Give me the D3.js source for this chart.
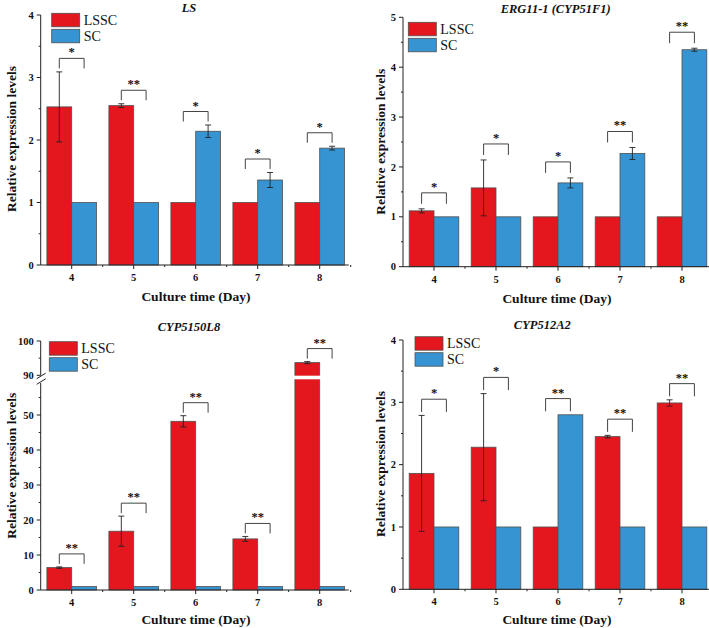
<!DOCTYPE html>
<html><head><meta charset="utf-8">
<script src="https://cdn.jsdelivr.net/npm/d3@7"></script>
<style>body{margin:0;background:#fff}svg{display:block}text{font-family:"Liberation Serif","Times New Roman",serif;fill:#111}</style>
</head><body>
<svg id="c" width="709" height="628"></svg>
<script>
const days = ["4", "5", "6", "7", "8"];
const seriesNames = ["LSSC", "SC"];
const xTitle = "Culture time (Day)";
const yTitle = "Relative expression levels";

// Panel 1: LS
const lsLSSC = [2.53, 2.55, 1, 1, 1];
const lsLSSCErr = [0.56, 0.03, 0, 0, 0];
const lsSC = [1, 1, 2.14, 1.36, 1.87];
const lsSCErr = [0, 0, 0.10, 0.12, 0.03];
const lsSig = ["*", "**", "*", "*", "*"];
const lsTicks = [0, 1, 2, 3, 4];

// Panel 2: ERG11-1 (CYP51F1)
const ergLSSC = [1.12, 1.58, 1, 1, 1];
const ergLSSCErr = [0.04, 0.56, 0, 0, 0];
const ergSC = [1, 1, 1.68, 2.27, 4.35];
const ergSCErr = [0, 0, 0.10, 0.12, 0.03];
const ergSig = ["*", "*", "*", "**", "**"];
const ergTicks = [0, 1, 2, 3, 4, 5];

// Panel 3: CYP5150L8 (broken axis)
const c50LSSC = [6.4, 16.8, 48.2, 14.6, 93.7];
const c50LSSCErr = [0.2, 4.3, 1.6, 0.7, 0.3];
const c50SC = [1, 1, 1, 1, 1];
const c50SCErr = [0, 0, 0, 0, 0];
const c50Sig = ["**", "**", "**", "**", "**"];
const c50TicksLow = [0, 10, 20, 30, 40, 50];
const c50TicksHigh = [90, 100];

// Panel 4: CYP512A2
const c12LSSC = [1.86, 2.28, 1, 2.45, 2.99];
const c12LSSCErr = [0.93, 0.86, 0, 0.02, 0.05];
const c12SC = [1, 1, 2.8, 1, 1];
const c12SCErr = [0, 0, 0, 0, 0];
const c12Sig = ["*", "*", "**", "**", "**"];
const c12Ticks = [0, 1, 2, 3, 4];

const RED = "#e3171d", BLUE = "#3594d1", EDGE = "#505050";
const svg = d3.select("#c");

function drawPanel(p) {
  const g = svg.append("g");
  const x = d3.scaleBand().domain(days).range([p.x0, p.x0 + 310]).padding(0);
  const step = x.bandwidth();
  const bw = step * 0.4;
  const y = p.y;
  const yBase = y(0);

  const series = [
    {vals: p.lssc, errs: p.lsscErr, color: RED, off: -1},
    {vals: p.sc, errs: p.scErr, color: BLUE, off: 0}
  ];
  series.forEach(s => {
    g.selectAll(null).data(days).enter().append("rect")
      .attr("x", d => x(d) + step / 2 + s.off * bw)
      .attr("width", bw)
      .attr("y", (d, i) => y(s.vals[i]))
      .attr("height", (d, i) => yBase - y(s.vals[i]))
      .attr("fill", s.color).attr("stroke", EDGE).attr("stroke-width", 0.8);
  });
  if (p.gap) {
    g.append("rect").attr("x", p.x0 + 1).attr("width", 320)
      .attr("y", p.gap[0]).attr("height", p.gap[1] - p.gap[0]).attr("fill", "#fff");
  }
  series.forEach(s => {
    days.forEach((d, i) => {
      const e = s.errs[i];
      if (!e) return;
      const cx = x(d) + step / 2 + s.off * bw + bw / 2;
      const y1 = y(s.vals[i] + e), y2 = y(s.vals[i] - e);
      g.append("line").attr("x1", cx).attr("x2", cx).attr("y1", y1).attr("y2", y2).attr("stroke", "#222").attr("stroke-width", 0.9);
      [y1, y2].forEach(yy => g.append("line").attr("x1", cx - 3).attr("x2", cx + 3).attr("y1", yy).attr("y2", yy).attr("stroke", "#222").attr("stroke-width", 0.9));
    });
  });
  days.forEach((d, i) => {
    const top = Math.min(y(p.lssc[i] + (p.lsscErr[i] || 0)), y(p.sc[i] + (p.scErr[i] || 0)));
    const legB = top - p.gapPx;
    const legT = legB - p.leg;
    const lx = x(d) + step / 2 - bw / 2, rx = x(d) + step / 2 + bw / 2;
    g.append("path").attr("d", `M${lx},${legB}V${legT}H${rx}V${legB}`)
      .attr("fill", "none").attr("stroke", "#444").attr("stroke-width", 1);
    g.append("text").attr("x", x(d) + step / 2).attr("y", legT - 2)
      .attr("text-anchor", "middle").attr("font-size", 12.5).attr("font-weight", "bold").text(p.sig[i]);
  });

  const ax = g.append("g").attr("stroke", "#222").attr("stroke-width", 1);
  ax.append("line").attr("x1", p.x0).attr("x2", p.x0 + 308).attr("y1", yBase).attr("y2", yBase);
  days.forEach(d => {
    const cx = x(d) + step / 2;
    ax.append("line").attr("x1", cx).attr("x2", cx).attr("y1", yBase).attr("y2", yBase + 4);
    ax.append("line").attr("x1", x(d) + step).attr("x2", x(d) + step).attr("y1", yBase).attr("y2", yBase + 2);
  });
  g.selectAll(null).data(days).enter().append("text")
    .attr("x", d => x(d) + step / 2).attr("y", yBase + 16)
    .attr("text-anchor", "middle").attr("font-size", 10.5).attr("font-weight", "bold").text(d => d);

  p.segments.forEach(seg => {
    ax.append("line").attr("x1", p.x0).attr("x2", p.x0).attr("y1", seg.r[0]).attr("y2", seg.r[1]);
    seg.ticks.forEach(t => {
      const yy = y(t);
      ax.append("line").attr("x1", p.x0 - 4).attr("x2", p.x0).attr("y1", yy).attr("y2", yy);
      g.append("text").attr("x", p.x0 - 7).attr("y", yy + 3.6).attr("text-anchor", "end")
        .attr("font-size", 10.5).attr("font-weight", "bold").text(t);
    });
    seg.minor.forEach(t => {
      const yy = y(t);
      ax.append("line").attr("x1", p.x0 - 2).attr("x2", p.x0).attr("y1", yy).attr("y2", yy);
    });
  });
  if (p.gap) {
    [p.gap[0] + 0.5, p.gap[1] + 2.5].forEach(yy => {
      ax.append("line").attr("x1", p.x0 - 4).attr("x2", p.x0 + 5).attr("y1", yy + 2.5).attr("y2", yy - 3);
    });
  }

  g.append("text").attr("x", p.tx).attr("y", p.ty).attr("text-anchor", "middle")
    .attr("font-size", 12.5).attr("font-weight", "bold").attr("font-style", "italic").text(p.title);
  g.append("text").attr("x", p.xlx).attr("y", p.xly).attr("text-anchor", "middle")
    .attr("font-size", 13.5).attr("font-weight", "bold").text(xTitle);
  g.append("text").attr("transform", `translate(${p.ylx},${p.yly}) rotate(-90)`).attr("text-anchor", "middle")
    .attr("font-size", 13.5).attr("font-weight", "bold").text(yTitle);

  [RED, BLUE].forEach((c, i) => {
    g.append("rect").attr("x", p.lg[0]).attr("y", p.lg[1] + i * 16).attr("width", 28).attr("height", 13.5)
      .attr("fill", c).attr("stroke", EDGE).attr("stroke-width", 0.8);
    g.append("text").attr("x", p.lg[0] + 32).attr("y", p.lg[1] + i * 16 + 11.5)
      .attr("font-size", 14).text(seriesNames[i]);
  });
}

const halfMinor = n => d3.range(0.5, n, 1);

drawPanel({
  x0: 40.7, y: d3.scaleLinear().domain([0, 4]).range([265, 15]),
  lssc: lsLSSC, lsscErr: lsLSSCErr, sc: lsSC, scErr: lsSCErr, sig: lsSig,
  segments: [{r: [265, 15], ticks: lsTicks, minor: halfMinor(4)}],
  leg: 10, gapPx: 3.5,
  title: "LS", tx: 189, ty: 12,
  xlx: 196, xly: 301, ylx: 16, yly: 139, lg: [51.7, 13.3]
});

drawPanel({
  x0: 403, y: d3.scaleLinear().domain([0, 5]).range([266.7, 17.3]),
  lssc: ergLSSC, lsscErr: ergLSSCErr, sc: ergSC, scErr: ergSCErr, sig: ergSig,
  segments: [{r: [266.7, 17.3], ticks: ergTicks, minor: halfMinor(5)}],
  leg: 11, gapPx: 5,
  title: "ERG11-1 (CYP51F1)", tx: 555.7, ty: 12.7,
  xlx: 557, xly: 303, ylx: 385, yly: 141.7, lg: [408.3, 22.3]
});

const c50Low = d3.scaleLinear().domain([0, 60]).range([590, 380]);
const c50High = d3.scaleLinear().domain([90, 100]).range([375.3, 341]);
const c50Y = v => v <= 60 ? c50Low(v) : c50High(v);
drawPanel({
  x0: 40.7, y: c50Y,
  lssc: c50LSSC, lsscErr: c50LSSCErr, sc: c50SC, scErr: c50SCErr, sig: c50Sig,
  segments: [
    {r: [590, 383], ticks: c50TicksLow, minor: [5, 15, 25, 35, 45, 55]},
    {r: [375.3, 341], ticks: c50TicksHigh, minor: [95]}
  ],
  gap: [375.7, 379.3],
  leg: 10, gapPx: 3,
  title: "CYP5150L8", tx: 189, ty: 330.7,
  xlx: 196, xly: 623.5, ylx: 16, yly: 465.8, lg: [49.3, 341.7]
});

drawPanel({
  x0: 403, y: d3.scaleLinear().domain([0, 4]).range([589.3, 340]),
  lssc: c12LSSC, lsscErr: c12LSSCErr, sc: c12SC, scErr: c12SCErr, sig: c12Sig,
  segments: [{r: [589.3, 340], ticks: c12Ticks, minor: halfMinor(4)}],
  leg: 12.7, gapPx: 3.5,
  title: "CYP512A2", tx: 542.3, ty: 328.5,
  xlx: 557, xly: 623.5, ylx: 385, yly: 464, lg: [415, 336.7]
});
</script>
</body></html>
